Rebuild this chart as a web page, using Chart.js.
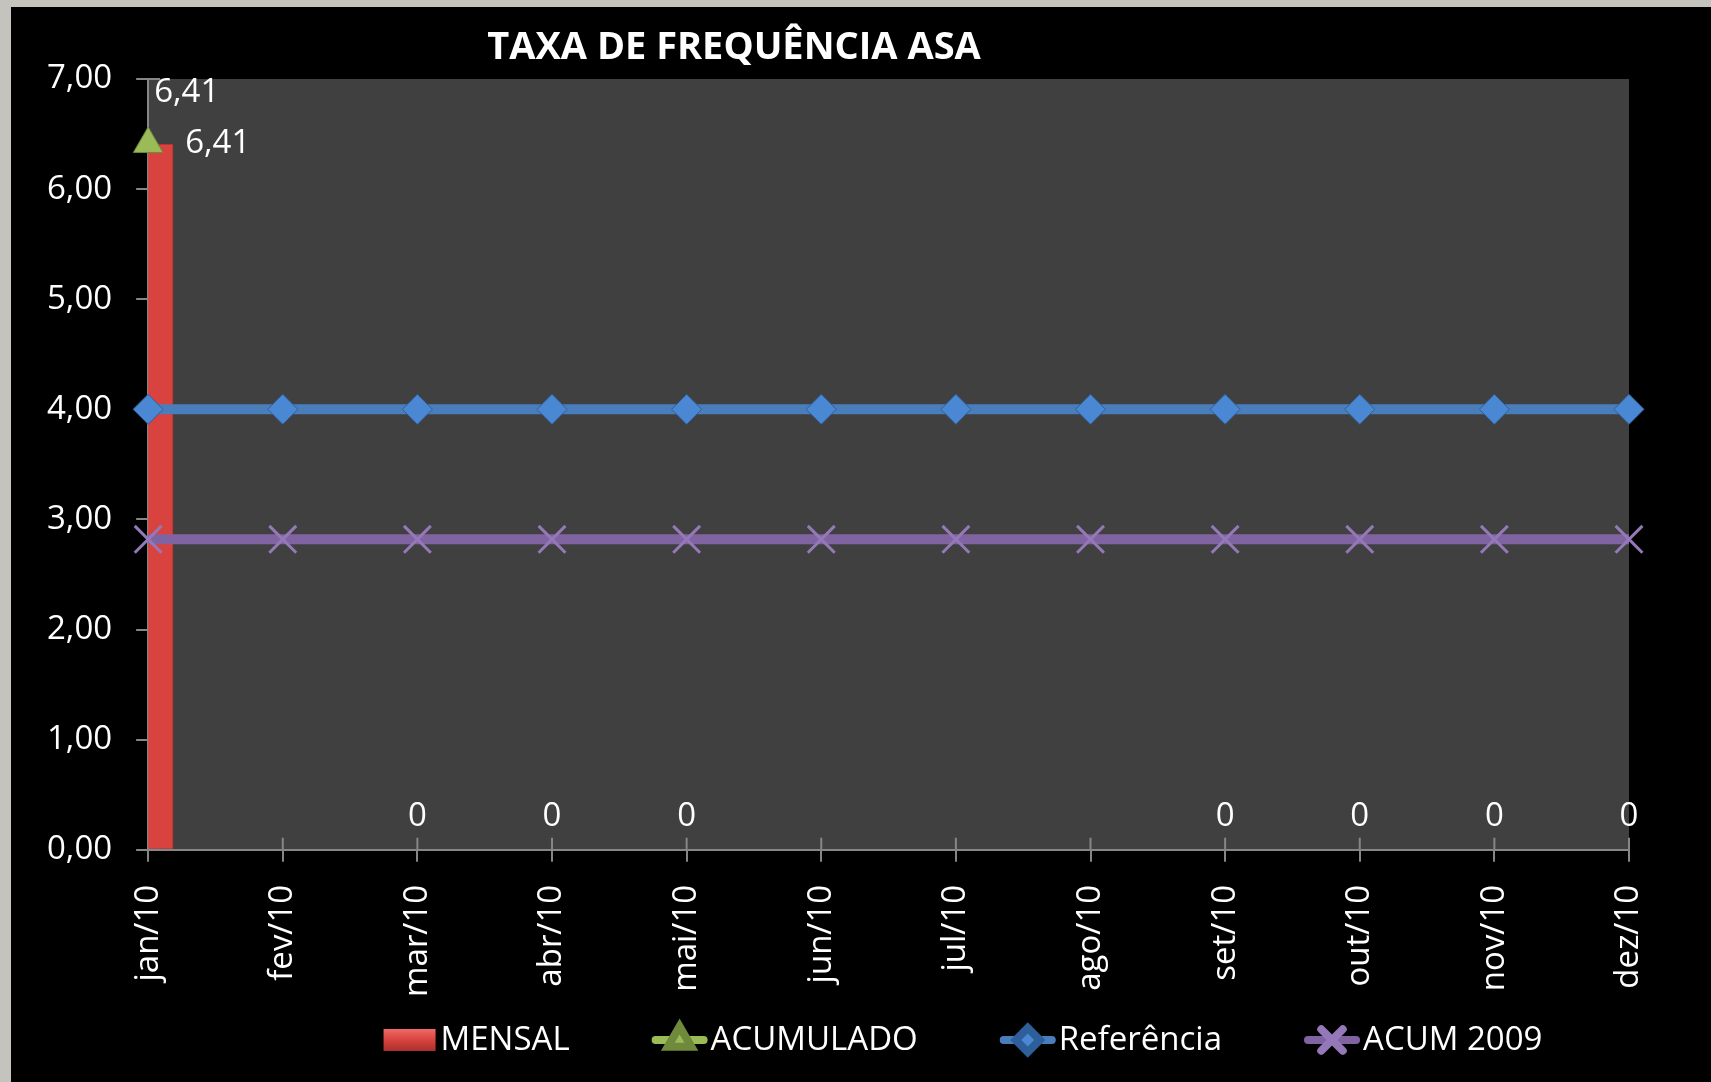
<!DOCTYPE html>
<html>
<head>
<meta charset="utf-8">
<script src="https://cdn.jsdelivr.net/npm/chart.js@4.4.1/dist/chart.umd.min.js"></script>
<style>
html,body{margin:0;padding:0;background:#c4c3be;overflow:hidden;}
canvas{display:block;}
</style>
</head>
<body>
<canvas id="c" width="1711" height="1082"></canvas>
<script>
const chartTitle = 'TAXA DE FREQUÊNCIA ASA';
const categories = ['jan/10','fev/10','mar/10','abr/10','mai/10','jun/10','jul/10','ago/10','set/10','out/10','nov/10','dez/10'];
const mensal     = [6.41, null, 0, 0, 0, null, null, null, 0, 0, 0, 0];
const acumulado  = [6.41, null, null, null, null, null, null, null, null, null, null, null];
const referencia = [4.00, 4.00, 4.00, 4.00, 4.00, 4.00, 4.00, 4.00, 4.00, 4.00, 4.00, 4.00];
const acum2009   = [2.82, 2.82, 2.82, 2.82, 2.82, 2.82, 2.82, 2.82, 2.82, 2.82, 2.82, 2.82];
const seriesNames = ['MENSAL', 'ACUMULADO', 'Referência', 'ACUM 2009'];
const yMin = 0, yMax = 7, yStep = 1;

const FONT = '"Open Sans", sans-serif';
const fmt = v => String(v).replace('.', ',');

const bgPlugin = {
  id: 'bg',
  beforeDraw(chart) {
    const ctx = chart.ctx, a = chart.chartArea;
    ctx.save();
    ctx.fillStyle = '#c4c3be';
    ctx.fillRect(0, 0, chart.width, chart.height);
    ctx.fillStyle = '#000000';
    ctx.fillRect(11, 7, chart.width - 11, chart.height - 7);
    ctx.fillStyle = '#404040';
    ctx.fillRect(a.left, a.top, a.right - a.left, a.bottom - a.top);
    ctx.fillStyle = '#ffffff';
    ctx.font = 'bold 38px ' + FONT;
    ctx.textAlign = 'center';
    ctx.textBaseline = 'alphabetic';
    ctx.fillText(chartTitle, 734, 59);
    ctx.restore();
  },
  beforeDatasetsDraw(chart) {
    const ctx = chart.ctx, a = chart.chartArea;
    const xs = chart.scales.x, ys = chart.scales.y;
    ctx.save();
    ctx.strokeStyle = '#868686';
    ctx.lineWidth = 2;
    ctx.beginPath();
    xs.ticks.forEach((t, i) => {
      const x = xs.getPixelForTick(i);
      ctx.moveTo(x, a.bottom); ctx.lineTo(x, a.bottom - 12);
    });
    ys.ticks.forEach((t, i) => {
      const y = ys.getPixelForTick(i);
      ctx.moveTo(a.left, y); ctx.lineTo(a.left + 12, y);
    });
    ctx.stroke();
    ctx.restore();
  }
};

const labelPlugin = {
  id: 'valueLabels',
  afterDatasetsDraw(chart) {
    const ctx = chart.ctx, a = chart.chartArea;
    ctx.save();
    ctx.font = '33px ' + FONT;
    ctx.fillStyle = '#ffffff';
    ctx.textBaseline = 'middle';
    ctx.textAlign = 'left';
    chart.data.datasets.forEach((ds, i) => {
      const cfg = ds.valueLabels;
      if (!cfg) return;
      const meta = chart.getDatasetMeta(i);
      meta.data.forEach((el, j) => {
        const v = ds.data[j];
        if (v === null || v === undefined) return;
        const txt = fmt(v);
        const w = ctx.measureText(txt).width;
        let left = el.x - w / 2, y = el.y - cfg.above;
        if (left < a.left) {
          if (cfg.side !== undefined) { left = el.x + cfg.side; y = el.y; }
          else { left = a.left + cfg.inset; }
        }
        ctx.fillText(txt, left, y);
      });
    });
    ctx.restore();
  }
};

const legendPlugin = {
  id: 'customLegend',
  afterDraw(chart) {
    const ctx = chart.ctx;
    ctx.save();
    ctx.font = '33px ' + FONT;
    ctx.textBaseline = 'middle';
    ctx.textAlign = 'left';
    const symW = 56, symGap = 3, itemGap = 82;
    const dss = chart.data.datasets.slice().sort((p, q) => p.legendIndex - q.legendIndex);
    const widths = dss.map(d => symW + symGap + ctx.measureText(d.label).width);
    const total = widths.reduce((s, w) => s + w, 0) + itemGap * (dss.length - 1);
    let x = 962 - total / 2;
    const y = 1040;
    dss.forEach((d, k) => {
      if (d.type === 'bar') {
        const g = ctx.createLinearGradient(0, y - 11, 0, y + 11);
        g.addColorStop(0, '#f06a66'); g.addColorStop(0.5, '#d9433f'); g.addColorStop(1, '#a8302d');
        ctx.fillStyle = g;
        ctx.fillRect(x + 2, y - 11, symW - 4, 22);
      } else {
        ctx.strokeStyle = d.borderColor;
        ctx.lineWidth = 8;
        ctx.lineCap = 'round';
        ctx.beginPath(); ctx.moveTo(x + 4, y); ctx.lineTo(x + symW - 4, y); ctx.stroke();
        ctx.fillStyle = d.pointBackgroundColor;
        ctx.strokeStyle = d.pointBorderColor;
        Chart.helpers.drawPoint(ctx, {
          pointStyle: d.pointStyle, radius: d.pointRadius * 0.8, rotation: 0,
          borderWidth: d.pointBorderWidth
        }, x + symW / 2, y);
      }
      ctx.fillStyle = '#ffffff';
      ctx.fillText(d.label, x + symW + symGap, y + 1);
      x += widths[k] + itemGap;
    });
    ctx.restore();
  }
};

const barFill = (c) => {
  const el = c.element;
  const chart = c.chart;
  if (!el || !chart.chartArea || !Number.isFinite(el.x)) return '#d9433f';
  const half = 25;
  const g = chart.ctx.createLinearGradient(el.x - half, 0, el.x + half, 0);
  g.addColorStop(0, '#e0524e');
  g.addColorStop(0.75, '#d6423f');
  g.addColorStop(1, '#a9312e');
  return g;
};

const ctx = document.getElementById('c').getContext('2d');
new Chart(ctx, {
  type: 'bar',
  data: {
    labels: categories,
    datasets: [
      {
        type: 'bar', label: seriesNames[0], data: mensal, legendIndex: 0,
        backgroundColor: barFill, borderColor: '#a8302d', borderWidth: 1,
        barThickness: 50, order: 4, clip: 0,
        valueLabels: { above: 33, side: 37 }
      },
      {
        type: 'line', label: seriesNames[1], data: acumulado, legendIndex: 1,
        borderColor: '#9bbb59', borderWidth: 10,
        pointStyle: 'triangle', pointRadius: 17, pointBackgroundColor: '#9bbb59',
        pointBorderColor: '#6f8a3a', pointBorderWidth: 1, order: 1,
        valueLabels: { above: 51, inset: 6 }
      },
      {
        type: 'line', label: seriesNames[2], data: referencia, legendIndex: 2,
        borderColor: '#4a7ebb', borderWidth: 10,
        pointStyle: 'rectRot', pointRadius: 15, pointBackgroundColor: '#4a88d4',
        pointBorderColor: '#2f5f9a', pointBorderWidth: 1, order: 2
      },
      {
        type: 'line', label: seriesNames[3], data: acum2009, legendIndex: 3,
        borderColor: '#8064a2', borderWidth: 10,
        pointStyle: 'crossRot', pointRadius: 19, pointBackgroundColor: '#9478b8',
        pointBorderColor: '#9478b8', pointBorderWidth: 3, order: 3
      }
    ]
  },
  options: {
    responsive: false,
    animation: false,
    events: [],
    layout: { padding: { left: 23, top: 79, right: 82, bottom: 62 } },
    plugins: { legend: { display: false }, title: { display: false }, tooltip: { enabled: false } },
    scales: {
      x: {
        type: 'category', offset: false,
        grid: { offset: false, drawOnChartArea: false, color: '#868686', lineWidth: 2, tickLength: 12 },
        border: { color: '#868686', width: 2 },
        ticks: { color: '#ffffff', font: { family: FONT, size: 33 }, minRotation: 90, maxRotation: 90, padding: 23, autoSkip: false }
      },
      y: {
        min: yMin, max: yMax,
        grid: { drawOnChartArea: false, color: '#868686', lineWidth: 2, tickLength: 12 },
        border: { color: '#868686', width: 2 },
        ticks: { stepSize: yStep, color: '#ffffff', font: { family: FONT, size: 33 }, padding: 24,
                 callback: v => v.toFixed(2).replace('.', ',') }
      }
    }
  },
  plugins: [bgPlugin, labelPlugin, legendPlugin]
});
</script>
</body>
</html>
